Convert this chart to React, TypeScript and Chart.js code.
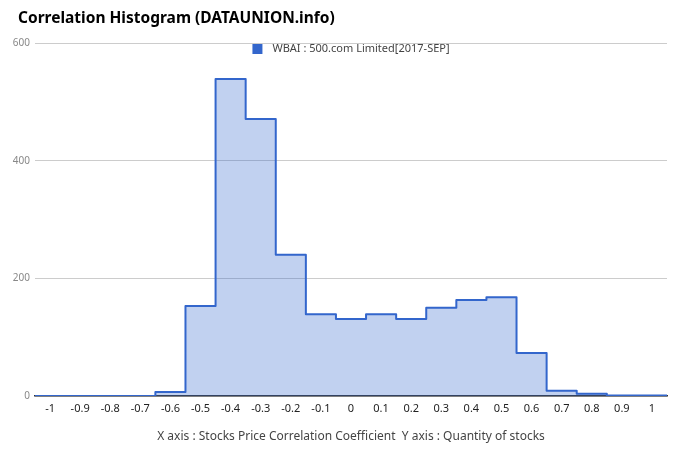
import React, { useEffect, useRef } from "react";
import { Chart, registerables } from "chart.js";

Chart.register(...registerables);

const categories = [-1, -0.9, -0.8, -0.7, -0.6, -0.5, -0.4, -0.3, -0.2, -0.1, 0, 0.1, 0.2, 0.3, 0.4, 0.5, 0.6, 0.7, 0.8, 0.9, 1];
const tickLabels = ["-1", "-0.9", "-0.8", "-0.7", "-0.6", "-0.5", "-0.4", "-0.3", "-0.2", "-0.1", "0", "0.1", "0.2", "0.3", "0.4", "0.5", "0.6", "0.7", "0.8", "0.9", "1"];
const counts = [0, 0, 0, 0, 7, 153, 539, 471, 240, 139, 131, 139, 131, 150, 163, 168, 73, 9, 4, 1, 1];
const seriesName = "WBAI : 500.com Limited[2017-SEP]";
const titleText = "Correlation Histogram (DATAUNION.info)";
const axisTitle = "X axis : Stocks Price Correlation Coefficient  Y axis : Quantity of stocks";

const FONT = "'Noto Sans', 'Open Sans', sans-serif";

const headerPlugin = {
  id: "header",
  afterDraw(chart: any) {
    const ctx = chart.ctx;
    const area = chart.chartArea;
    ctx.save();
    // title
    ctx.font = `bold 15.5px ${FONT}`;
    ctx.fillStyle = "#000";
    ctx.textAlign = "left";
    ctx.textBaseline = "middle";
    ctx.fillText(titleText, 18, 19);
    // legend
    ctx.font = `11px ${FONT}`;
    const tw = ctx.measureText(seriesName).width;
    const box = 10;
    const gap = 10;
    const total = box + gap + tw;
    const x0 = (area.left + area.right) / 2 - total / 2;
    const cy = area.top + 6;
    ctx.fillStyle = "#3366cc";
    ctx.fillRect(x0, cy - box / 2, box, box);
    ctx.fillStyle = "#444";
    ctx.fillText(seriesName, x0 + box + gap, cy);
    ctx.restore();
  },
};

export default function App() {
  const ref = useRef<HTMLCanvasElement | null>(null);
  useEffect(() => {
    if (!ref.current) return;
    const half = 0.05;
    const pts = categories.map((c, i) => ({ x: c - half, y: counts[i] }));
    pts.push({ x: categories[categories.length - 1] + half, y: counts[counts.length - 1] });
    const chart = new Chart(ref.current, {
      type: "line",
      data: {
        datasets: [
          {
            label: seriesName,
            data: pts,
            stepped: "before",
            borderColor: "#3366cc",
            backgroundColor: "rgba(51,102,204,0.3)",
            borderWidth: 2,
            borderJoinStyle: "round",
            fill: "origin",
            pointRadius: 0,
            tension: 0,
          },
        ],
      },
      options: {
        animation: false,
        responsive: false,
        layout: { padding: { left: 0, right: 13, top: 43, bottom: 0 } },
        plugins: {
          title: { display: false },
          legend: { display: false },
          tooltip: { enabled: false },
        },
        scales: {
          x: {
            type: "linear",
            min: -1.05,
            max: 1.05,
            afterBuildTicks: (scale: any) => {
              scale.ticks = categories.map((v) => ({ value: v }));
            },
            afterFit: (scale: any) => {
              scale.height = 66;
            },
            grid: { display: false, drawTicks: false },
            border: { display: true, color: "#333", width: 1.5 },
            ticks: {
              autoSkip: false,
              maxRotation: 0,
              padding: 6,
              color: "#222",
              font: { family: FONT, size: 11 },
              callback: (_v: any, i: number) => tickLabels[i],
            },
            title: {
              display: true,
              text: axisTitle,
              color: "#444",
              font: { family: FONT, size: 12 },
              padding: { top: 4, bottom: 18 },
            },
          },
          y: {
            min: 0,
            max: 600,
            afterFit: (scale: any) => {
              scale.width = 35;
            },
            grid: { color: "#cccccc", drawTicks: false },
            border: { display: false },
            ticks: {
              stepSize: 200,
              padding: 5,
              color: "#888",
              font: { family: FONT, size: 10 },
            },
          },
        },
      },
      plugins: [headerPlugin],
    } as any);
    return () => chart.destroy();
  }, []);
  return (
    <div style={{ position: "absolute", left: 0, top: 0, width: 680, height: 462, background: "#fff" }}>
      <canvas ref={ref} width={680} height={462} />
    </div>
  );
}
